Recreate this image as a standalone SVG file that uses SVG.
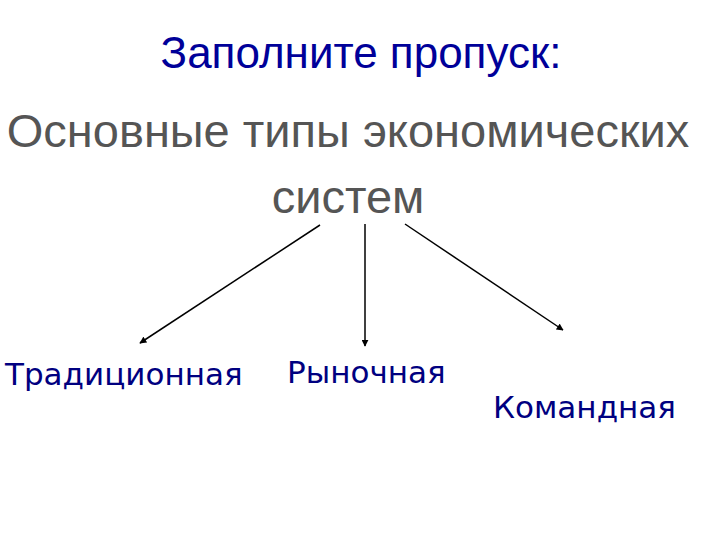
<svg xmlns="http://www.w3.org/2000/svg" width="720" height="540" viewBox="0 0 720 540">
<style>
.t{font-family:"Liberation Sans",Arial,sans-serif}
.lbl{font-family:"DejaVu Sans",Verdana,sans-serif;font-size:31px;fill:#000080}
.c{stroke:#000;stroke-width:1.5;fill:none;marker-end:url(#ah)}
</style>
<defs>
<marker id="ah" viewBox="0 0 10 10" refX="9" refY="5" markerWidth="7" markerHeight="7" markerUnits="userSpaceOnUse" orient="auto"><path d="M0,0L10,5L0,10z" fill="#000"/></marker>
</defs>
<rect width="720" height="540" fill="#fff"/>
<g id="title"><text class="t" x="361" y="68" font-size="44" fill="#000099" text-anchor="middle">Заполните пропуск:</text></g>
<g id="root"><text class="t" x="348" y="147" font-size="47" fill="#555" text-anchor="middle">Основные типы экономических</text>
<text class="t" x="348" y="213" font-size="47" fill="#555" text-anchor="middle">систем</text></g>
<g id="connectors">
<line class="c" x1="320" y1="225" x2="140" y2="343"/>
<line class="c" x1="365" y1="224" x2="365" y2="346"/>
<line class="c" x1="405" y1="224" x2="563" y2="330"/>
</g>
<g id="n1"><text class="lbl" x="5" y="385">Традиционная</text></g>
<g id="n2"><text class="lbl" x="287" y="383">Рыночная</text></g>
<g id="n3"><text class="lbl" x="493" y="418">Командная</text></g>
</svg>
